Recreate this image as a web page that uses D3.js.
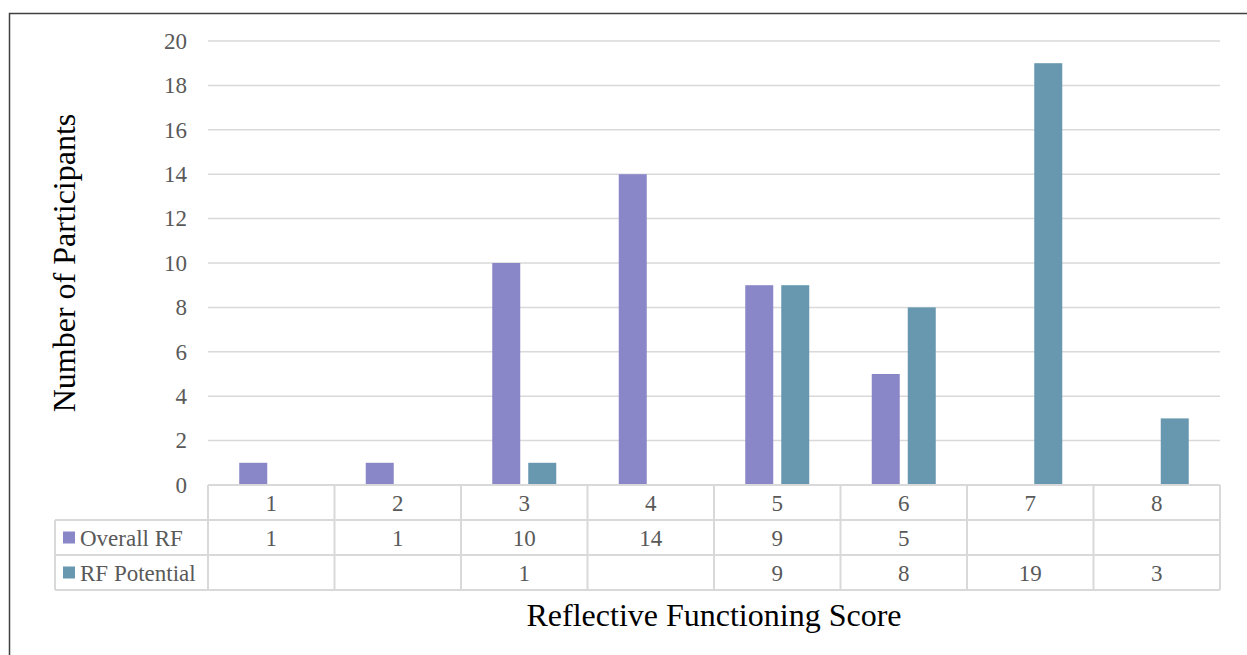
<!DOCTYPE html>
<html>
<head>
<meta charset="utf-8">
<script src="https://cdn.jsdelivr.net/npm/d3@7"></script>
<style>
  html, body { margin: 0; padding: 0; background: #fff; }
  svg { display: block; }
</style>
</head>
<body>
<svg id="chart" width="1247" height="655"></svg>
<script>
// Reflective functioning scores and participant counts per score
const scores = ["1", "2", "3", "4", "5", "6", "7", "8"];
const seriesNames = ["Overall RF", "RF Potential"];
const overallRF = [1, 1, 10, 14, 9, 5, null, null];
const rfPotential = [null, null, 1, null, 9, 8, 19, 3];
const yTicks = [0, 2, 4, 6, 8, 10, 12, 14, 16, 18, 20];
const seriesColors = ["#8987c7", "#6798b0"];

const svg = d3.select("#chart");
const W = 1247, H = 655;
const serif = "'Liberation Serif', 'Times New Roman', serif";
const gridColor = "#d9d9d9";
const textGray = "#595959";
const smallFont = 23, titleFont = 32;

// outer frame
svg.append("rect")
  .attr("x", 9.5).attr("y", 13.5)
  .attr("width", W + 10).attr("height", H + 10)
  .attr("fill", "none").attr("stroke", "#404040").attr("stroke-width", 1.5);

const plot = { left: 208, right: 1220, top: 41, bottom: 485 };

const x = d3.scaleBand().domain(scores).range([plot.left, plot.right]);
const y = d3.scaleLinear().domain([0, 20]).range([plot.bottom, plot.top]);

// horizontal gridlines
svg.append("g").selectAll("line")
  .data(yTicks.filter(t => t > 0))
  .join("line")
  .attr("x1", plot.left).attr("x2", plot.right)
  .attr("y1", d => y(d)).attr("y2", d => y(d))
  .attr("stroke", gridColor).attr("stroke-width", 1.5);

// y axis tick labels
const yAxis = d3.axisLeft(y).tickValues(yTicks).tickSize(0).tickPadding(21);
const gy = svg.append("g").attr("transform", `translate(${plot.left},0)`).call(yAxis);
gy.select(".domain").remove();
gy.selectAll("text")
  .attr("font-family", serif).attr("font-size", smallFont).attr("fill", textGray);

// bars
const barW = 28, gap = 8;
const seriesData = [overallRF, rfPotential];
seriesData.forEach((vals, si) => {
  svg.append("g").selectAll("rect")
    .data(scores.map((s, i) => ({ s, v: vals[i] })).filter(d => d.v != null))
    .join("rect")
    .attr("x", d => x(d.s) + x.bandwidth() / 2 + (si === 0 ? -gap / 2 - barW : gap / 2))
    .attr("y", d => y(d.v))
    .attr("width", barW)
    .attr("height", d => y(0) - y(d.v))
    .attr("fill", seriesColors[si]);
});

// data table beneath the plot
const rowH = 35;
const tableTop = plot.bottom;
const legendLeft = 55;
const tg = svg.append("g");
const lineAttrs = sel => sel.attr("stroke", gridColor).attr("stroke-width", 2).attr("fill", "none");

// horizontal table lines
tg.append("line").attr("x1", plot.left).attr("x2", plot.right)
  .attr("y1", tableTop).attr("y2", tableTop).call(lineAttrs);
[1, 2, 3].forEach(r => {
  tg.append("line").attr("x1", legendLeft).attr("x2", plot.right)
    .attr("y1", tableTop + r * rowH).attr("y2", tableTop + r * rowH).call(lineAttrs);
});
// vertical table lines
const bounds = scores.map(s => x(s)).concat([plot.right]);
bounds.forEach(bx => {
  tg.append("line").attr("x1", bx).attr("x2", bx)
    .attr("y1", tableTop).attr("y2", tableTop + 3 * rowH).call(lineAttrs);
});
tg.append("line").attr("x1", legendLeft).attr("x2", legendLeft)
  .attr("y1", tableTop + rowH).attr("y2", tableTop + 3 * rowH).call(lineAttrs);

// category header row
tg.append("g").selectAll("text").data(scores).join("text")
  .attr("x", d => x(d) + x.bandwidth() / 2)
  .attr("y", tableTop + rowH / 2)
  .attr("dy", "0.35em").attr("text-anchor", "middle")
  .attr("font-family", serif).attr("font-size", smallFont).attr("fill", textGray)
  .text(d => d);

// value rows with legend keys
seriesData.forEach((vals, si) => {
  const cy = tableTop + (si + 1) * rowH + rowH / 2;
  tg.append("rect").attr("x", 63).attr("y", cy - 6).attr("width", 12).attr("height", 12)
    .attr("fill", seriesColors[si]);
  tg.append("text").attr("x", 80).attr("y", cy).attr("dy", "0.35em")
    .attr("font-family", serif).attr("font-size", smallFont).attr("fill", textGray)
    .text(seriesNames[si]);
  tg.append("g").selectAll("text")
    .data(scores.map((s, i) => ({ s, v: vals[i] })).filter(d => d.v != null))
    .join("text")
    .attr("x", d => x(d.s) + x.bandwidth() / 2)
    .attr("y", cy).attr("dy", "0.35em").attr("text-anchor", "middle")
    .attr("font-family", serif).attr("font-size", smallFont).attr("fill", textGray)
    .text(d => d.v);
});

// axis titles
svg.append("text")
  .attr("x", (plot.left + plot.right) / 2).attr("y", 615)
  .attr("dy", "0.35em").attr("text-anchor", "middle")
  .attr("font-family", serif).attr("font-size", titleFont).attr("fill", "#000")
  .text("Reflective Functioning Score");
svg.append("text")
  .attr("transform", "translate(64,263) rotate(-90)")
  .attr("dy", "0.35em").attr("text-anchor", "middle")
  .attr("font-family", serif).attr("font-size", titleFont).attr("fill", "#000")
  .text("Number of Participants");
</script>
</body>
</html>
